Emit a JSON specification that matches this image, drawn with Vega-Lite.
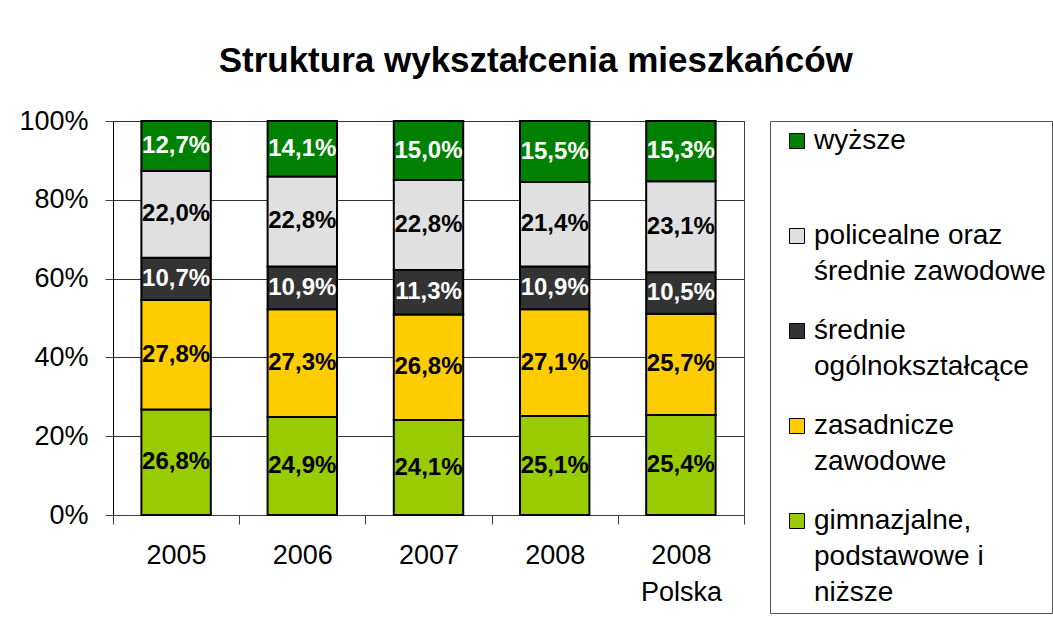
{
  "$schema": "https://vega.github.io/schema/vega-lite/v6.json",
  "width": 631,
  "height": 394,
  "padding": {"left": 18, "top": 44, "right": 0, "bottom": 0},
  "background": "white",
  "title": {
    "text": "Struktura wykształcenia mieszkańców",
    "font": "Liberation Sans",
    "fontSize": 35,
    "fontWeight": "bold",
    "color": "black",
    "anchor": "middle",
    "frame": "bounds",
    "offset": 28
  },
  "data": {
    "values": [
      {"rok": "2005", "cat": "gimnazjalne, podstawowe i niższe", "v": 26.8},
      {"rok": "2005", "cat": "zasadnicze zawodowe", "v": 27.8},
      {"rok": "2005", "cat": "średnie ogólnokształcące", "v": 10.7},
      {"rok": "2005", "cat": "policealne oraz średnie zawodowe", "v": 22.0},
      {"rok": "2005", "cat": "wyższe", "v": 12.7},
      {"rok": "2006", "cat": "gimnazjalne, podstawowe i niższe", "v": 24.9},
      {"rok": "2006", "cat": "zasadnicze zawodowe", "v": 27.3},
      {"rok": "2006", "cat": "średnie ogólnokształcące", "v": 10.9},
      {"rok": "2006", "cat": "policealne oraz średnie zawodowe", "v": 22.8},
      {"rok": "2006", "cat": "wyższe", "v": 14.1},
      {"rok": "2007", "cat": "gimnazjalne, podstawowe i niższe", "v": 24.1},
      {"rok": "2007", "cat": "zasadnicze zawodowe", "v": 26.8},
      {"rok": "2007", "cat": "średnie ogólnokształcące", "v": 11.3},
      {"rok": "2007", "cat": "policealne oraz średnie zawodowe", "v": 22.8},
      {"rok": "2007", "cat": "wyższe", "v": 15.0},
      {"rok": "2008", "cat": "gimnazjalne, podstawowe i niższe", "v": 25.1},
      {"rok": "2008", "cat": "zasadnicze zawodowe", "v": 27.1},
      {"rok": "2008", "cat": "średnie ogólnokształcące", "v": 10.9},
      {"rok": "2008", "cat": "policealne oraz średnie zawodowe", "v": 21.4},
      {"rok": "2008", "cat": "wyższe", "v": 15.5},
      {"rok": "2008 Polska", "cat": "gimnazjalne, podstawowe i niższe", "v": 25.4},
      {"rok": "2008 Polska", "cat": "zasadnicze zawodowe", "v": 25.7},
      {"rok": "2008 Polska", "cat": "średnie ogólnokształcące", "v": 10.5},
      {"rok": "2008 Polska", "cat": "policealne oraz średnie zawodowe", "v": 23.1},
      {"rok": "2008 Polska", "cat": "wyższe", "v": 15.3}
    ]
  },
  "transform": [
    {"calculate": "replace(format(datum.v, '.1f'), '.', ',') + '%'", "as": "lbl"},
    {"calculate": "indexof(['gimnazjalne, podstawowe i niższe','zasadnicze zawodowe','średnie ogólnokształcące','policealne oraz średnie zawodowe','wyższe'], datum.cat)", "as": "o"}
  ],
  "encoding": {
    "x": {
      "field": "rok",
      "type": "nominal",
      "sort": null,
      "scale": {"paddingInner": 0, "paddingOuter": 0},
      "axis": {
        "title": null,
        "labelAngle": 0,
        "labelFont": "Liberation Sans",
        "labelFontSize": 27,
        "labelColor": "black",
        "labelLineHeight": 37,
        "labelPadding": 18,
        "labelExpr": "datum.value == '2008 Polska' ? ['2008', 'Polska'] : datum.label",
        "tickBand": "extent",
        "tickSize": 9,
        "tickColor": "#404040",
        "domainColor": "#404040",
        "grid": false
      }
    },
    "y": {
      "field": "v",
      "type": "quantitative",
      "stack": "zero",
      "scale": {"domain": [0, 100]},
      "axis": {
        "title": null,
        "values": [0, 20, 40, 60, 80, 100],
        "labelExpr": "datum.value + '%'",
        "labelFont": "Liberation Sans",
        "labelFontSize": 27,
        "labelColor": "black",
        "labelPadding": 17,
        "tickSize": 8,
        "tickColor": "#404040",
        "domainColor": "black",
        "grid": true,
        "gridColor": "#333333",
        "gridWidth": 1
      }
    }
  },
  "layer": [
    {
      "mark": {"type": "bar", "width": {"band": 0.55}, "stroke": "black", "strokeWidth": 2},
      "encoding": {
        "color": {
          "field": "cat",
          "type": "nominal",
          "scale": {
            "domain": ["wyższe", "policealne oraz średnie zawodowe", "średnie ogólnokształcące", "zasadnicze zawodowe", "gimnazjalne, podstawowe i niższe"],
            "range": ["#008000", "#e0e0e0", "#333333", "#FFCC00", "#99CC00"]
          },
          "legend": {
            "title": null,
            "orient": "right",
            "offset": 26,
            "labelFont": "Liberation Sans",
            "labelFontSize": 28,
            "labelColor": "black",
            "labelLimit": 400,
            "labelOffset": 3,
            "labelExpr": "datum.label == 'wyższe' ? ['wyższe', ' '] : datum.label == 'policealne oraz średnie zawodowe' ? ['policealne oraz', 'średnie zawodowe'] : datum.label == 'średnie ogólnokształcące' ? ['średnie', 'ogólnokształcące'] : datum.label == 'zasadnicze zawodowe' ? ['zasadnicze', 'zawodowe'] : ['gimnazjalne,', 'podstawowe i', 'niższe']",
            "symbolType": "square",
            "symbolSize": 225,
            "symbolStrokeColor": "black",
            "symbolStrokeWidth": 1,
            "symbolOffset": 7,
            "strokeColor": "#555555",
            "padding": 6,
            "rowPadding": 31
          }
        },
        "order": {"field": "o", "type": "quantitative"}
      }
    },
    {
      "mark": {"type": "text", "font": "Liberation Sans", "fontWeight": "bold", "fontSize": 24, "baseline": "middle"},
      "encoding": {
        "y": {"field": "v", "type": "quantitative", "stack": "zero", "bandPosition": 0.5},
        "detail": {"field": "cat"},
        "order": {"field": "o", "type": "quantitative"},
        "text": {"field": "lbl"},
        "color": {
          "condition": {"test": "datum.cat == 'wyższe' || datum.cat == 'średnie ogólnokształcące'", "value": "white"},
          "value": "black"
        }
      }
    }
  ],
  "config": {
    "view": {"stroke": "#404040", "strokeWidth": 1},
    "style": {"guide-label": {"lineHeight": 36}}
  }
}
